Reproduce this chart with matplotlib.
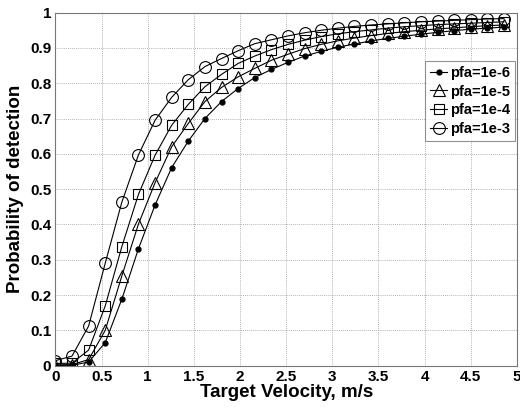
import matplotlib
matplotlib.use("Agg")
import matplotlib.pyplot as plt

velocity = [0.00, 0.18, 0.36, 0.54, 0.72, 0.90, 1.08, 1.26, 1.44, 1.62, 1.80, 1.98, 2.16, 2.34,
            2.52, 2.70, 2.88, 3.06, 3.24, 3.42, 3.60, 3.78, 3.96, 4.14, 4.32, 4.50, 4.68, 4.86]

pd_1e6 = [0.000, 0.001, 0.010, 0.065, 0.188, 0.331, 0.455, 0.561, 0.636, 0.700, 0.748, 0.785,
          0.816, 0.839, 0.859, 0.877, 0.890, 0.902, 0.911, 0.920, 0.927, 0.933, 0.939, 0.944,
          0.949, 0.953, 0.956, 0.959]
pd_1e5 = [0.002, 0.003, 0.017, 0.100, 0.254, 0.401, 0.518, 0.620, 0.686, 0.748, 0.788, 0.818,
          0.842, 0.865, 0.882, 0.898, 0.910, 0.920, 0.928, 0.935, 0.941, 0.946, 0.950, 0.954,
          0.957, 0.960, 0.963, 0.965]
pd_1e4 = [0.006, 0.007, 0.044, 0.169, 0.337, 0.485, 0.596, 0.681, 0.740, 0.790, 0.825, 0.856,
          0.877, 0.895, 0.910, 0.922, 0.932, 0.940, 0.946, 0.951, 0.956, 0.960, 0.963, 0.966,
          0.968, 0.970, 0.972, 0.974]
pd_1e3 = [0.014, 0.027, 0.112, 0.290, 0.463, 0.597, 0.695, 0.760, 0.810, 0.847, 0.870, 0.892,
          0.912, 0.923, 0.934, 0.943, 0.950, 0.956, 0.961, 0.965, 0.968, 0.971, 0.974, 0.976,
          0.978, 0.980, 0.982, 0.983]

labels = ["pfa=1e-6", "pfa=1e-5", "pfa=1e-4", "pfa=1e-3"]
x_ticks = [0, 0.5, 1, 1.5, 2, 2.5, 3, 3.5, 4, 4.5, 5]
x_ticklabels = ["0", "0.5", "1", "1.5", "2", "2.5", "3", "3.5", "4", "4.5", "5"]
y_ticks = [0, 0.1, 0.2, 0.3, 0.4, 0.5, 0.6, 0.7, 0.8, 0.9, 1]
y_ticklabels = ["0", "0.1", "0.2", "0.3", "0.4", "0.5", "0.6", "0.7", "0.8", "0.9", "1"]

plt.rcParams['font.family'] = ['Liberation Sans', 'DejaVu Sans']

fig = plt.figure(figsize=(5.2, 4.07), dpi=100)
ax = fig.add_axes([0.1065, 0.1017, 0.8875, 0.8673])

ax.plot(velocity, pd_1e6, color='black', lw=0.8, marker='o', markersize=3.5,
        markerfacecolor='black', markeredgecolor='black', label=labels[0])
ax.plot(velocity, pd_1e5, color='black', lw=0.8, marker='^', markersize=8.5,
        markerfacecolor='none', markeredgecolor='black', markeredgewidth=0.8, label=labels[1])
ax.plot(velocity, pd_1e4, color='black', lw=0.8, marker='s', markersize=7,
        markerfacecolor='none', markeredgecolor='black', markeredgewidth=0.8, label=labels[2])
ax.plot(velocity, pd_1e3, color='black', lw=0.8, marker='o', markersize=8.5,
        markerfacecolor='none', markeredgecolor='black', markeredgewidth=0.8, label=labels[3])

ax.set_xlim(0, 5)
ax.set_ylim(0, 1)
ax.set_xticks(x_ticks)
ax.set_xticklabels(x_ticklabels)
ax.set_yticks(y_ticks)
ax.set_yticklabels(y_ticklabels)
ax.tick_params(axis='both', labelsize=11, length=0, pad=3)
for t in ax.get_xticklabels() + ax.get_yticklabels():
    t.set_fontweight('bold')
ax.grid(True, color='#999999', linestyle=(0, (1, 1.5)), linewidth=0.6)
for s in ax.spines.values():
    s.set_color('#777777')
    s.set_linewidth(0.8)

ax.set_xlabel("Target Velocity, m/s", fontsize=13.5, fontweight='bold', labelpad=0)
ax.set_ylabel("Probability of detection", fontsize=13.5, fontweight='bold', labelpad=4)

leg = ax.legend(loc='upper right', bbox_to_anchor=(1.0, 0.868),
                prop={'weight': 'bold', 'size': 10.5}, frameon=True, fancybox=False,
                edgecolor='#777777', handlelength=1.2, handletextpad=0.2,
                borderpad=0.35, labelspacing=0.33, borderaxespad=0.1)
leg.get_frame().set_linewidth(0.8)

fig.savefig("out.png", dpi=100)
